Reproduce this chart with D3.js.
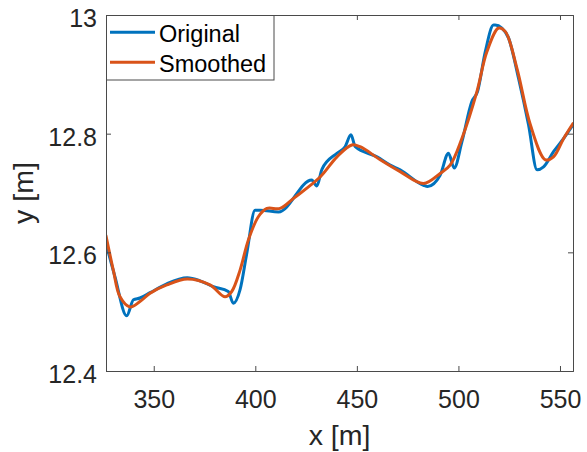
<!DOCTYPE html>
<html>
<head>
<meta charset="utf-8">
<script src="https://cdn.jsdelivr.net/npm/d3@7"></script>
<style>
  html, body { margin: 0; padding: 0; background: #fff; }
  svg { display: block; font-family: "Liberation Sans", Arial, sans-serif; }
</style>
</head>
<body>
<svg id="chart" width="587" height="452"></svg>
<script>
// ---- data ----
const originalX = [326.5, 330.9, 336.7, 340.0, 343.2, 348.2, 356.4, 366.5, 372.8, 379.4, 386.7, 389.2, 392.5, 395.8, 399.9, 402.4, 411.4, 427.8, 430.3, 432.8, 440.2, 444.2, 447.1, 449.2, 459.9, 466.4, 471.3, 482.8, 484.8, 491.0, 495.1, 497.9, 501.7, 506.6, 509.4, 513.2, 517.3, 518.1, 521.4, 524.7, 529.6, 534.5, 538.7, 541.9, 546.9, 551.8, 556.4];
const originalY = [12.615, 12.559, 12.493, 12.520, 12.523, 12.532, 12.547, 12.557, 12.552, 12.542, 12.534, 12.514, 12.537, 12.598, 12.671, 12.671, 12.668, 12.722, 12.712, 12.740, 12.767, 12.778, 12.798, 12.778, 12.761, 12.747, 12.739, 12.713, 12.711, 12.730, 12.767, 12.742, 12.786, 12.854, 12.871, 12.938, 12.983, 12.983, 12.978, 12.961, 12.893, 12.815, 12.739, 12.744, 12.770, 12.792, 12.815];

const smoothedX = [326.5, 330.1, 333.4, 338.3, 343.2, 348.2, 356.4, 366.5, 377.7, 385.1, 388.4, 392.5, 396.6, 401.5, 405.7, 412.2, 418.8, 431.9, 440.2, 447.5, 451.6, 461.5, 471.3, 482.8, 491.0, 495.9, 501.7, 509.1, 514.0, 519.8, 523.1, 528.8, 535.4, 542.8, 546.8, 551.8, 556.4];
const smoothedY = [12.628, 12.570, 12.525, 12.508, 12.517, 12.531, 12.545, 12.555, 12.545, 12.525, 12.534, 12.570, 12.621, 12.660, 12.674, 12.674, 12.691, 12.727, 12.761, 12.781, 12.778, 12.756, 12.736, 12.716, 12.733, 12.747, 12.792, 12.871, 12.938, 12.978, 12.972, 12.910, 12.815, 12.756, 12.761, 12.792, 12.817];

const xTicks = [350, 400, 450, 500, 550];
const yTicks = [12.4, 12.6, 12.8, 13];
const seriesNames = ["Original", "Smoothed"];
const seriesColors = ["#0072BD", "#D95319"];
const xLabel = "x [m]";
const yLabel = "y [m]";

// ---- layout ----
const L = 106, R = 573, T = 15, B = 371;
const svg = d3.select("#chart");
const x = d3.scaleLinear().domain([326.5, 556.4]).range([L, R]);
const y = d3.scaleLinear().domain([12.4, 13]).range([B, T]);

const axisColor = "#262626";
const tickLen = 5;

svg.append("defs").append("clipPath").attr("id", "clip")
  .append("rect").attr("x", L).attr("y", T).attr("width", R - L).attr("height", B - T);

// lines
const orig = originalX.map((v, i) => [v, originalY[i]]);
const smooth = smoothedX.map((v, i) => [v, smoothedY[i]]);
const lineOr = d3.line().x(d => x(d[0])).y(d => y(d[1])).curve(d3.curveMonotoneX);
const lineSm = d3.line().x(d => x(d[0])).y(d => y(d[1])).curve(d3.curveCatmullRom.alpha(0.5));

const g = svg.append("g").attr("clip-path", "url(#clip)");
g.append("path").datum(orig).attr("d", lineOr)
  .attr("fill", "none").attr("stroke", seriesColors[0]).attr("stroke-width", 3)
  .attr("stroke-linejoin", "round").attr("stroke-linecap", "round");
g.append("path").datum(smooth).attr("d", lineSm)
  .attr("fill", "none").attr("stroke", seriesColors[1]).attr("stroke-width", 3)
  .attr("stroke-linejoin", "round").attr("stroke-linecap", "round");

// axes (inward ticks, box)
const xb = svg.append("g").attr("transform", `translate(0,${B})`)
  .call(d3.axisBottom(x).tickValues(xTicks).tickSize(-tickLen).tickPadding(0).tickFormat(d3.format("d")));
const xt = svg.append("g").attr("transform", `translate(0,${T})`)
  .call(d3.axisTop(x).tickValues(xTicks).tickSize(-tickLen).tickFormat(""));
const yl = svg.append("g").attr("transform", `translate(${L},0)`)
  .call(d3.axisLeft(y).tickValues(yTicks).tickSize(-tickLen).tickFormat(d => d === 13 ? "13" : d3.format(".1f")(d)));
const yr = svg.append("g").attr("transform", `translate(${R},0)`)
  .call(d3.axisRight(y).tickValues(yTicks).tickSize(-tickLen).tickFormat(""));

[xb, xt, yl, yr].forEach(a => {
  a.selectAll(".domain").attr("stroke", "#4a4a4a").attr("stroke-width", 1);
  a.selectAll(".tick line").attr("stroke", "#4a4a4a").attr("stroke-width", 1);
});
xb.selectAll(".tick text").attr("fill", axisColor).attr("font-size", 25)
  .attr("y", 37).attr("dy", 0);
yl.selectAll(".tick text").attr("fill", axisColor).attr("font-size", 25)
  .attr("x", -9).attr("dy", 11.5);
[xb, xt, yl, yr].forEach(a => a.attr("font-family", null));

// axis labels
svg.append("text").attr("x", (L + R) / 2).attr("y", 445).attr("text-anchor", "middle")
  .attr("font-size", 28.5).attr("fill", axisColor).text(xLabel);
svg.append("text").attr("transform", `translate(33,${(T + B) / 2}) rotate(-90)`)
  .attr("text-anchor", "middle").attr("font-size", 28.5).attr("fill", axisColor).text(yLabel);

// legend
const lg = svg.append("g");
lg.append("rect").attr("x", 106.5).attr("y", 15.5).attr("width", 167.5).attr("height", 64.5)
  .attr("fill", "#fff").attr("stroke", "#4a4a4a").attr("stroke-width", 1);
seriesNames.forEach((name, i) => {
  const ly = 32.3 + i * 30;
  lg.append("line").attr("x1", 110).attr("x2", 155).attr("y1", ly).attr("y2", ly)
    .attr("stroke", seriesColors[i]).attr("stroke-width", 3);
  lg.append("text").attr("x", 159).attr("y", ly + 10).attr("font-size", 23.5)
    .attr("fill", "#000").text(name);
});
</script>
</body>
</html>
